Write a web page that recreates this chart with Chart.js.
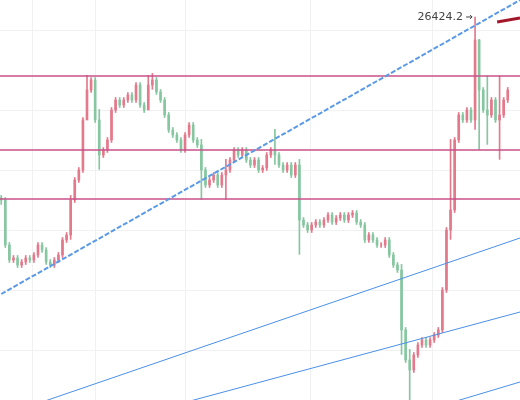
<!DOCTYPE html>
<html>
<head>
<meta charset="utf-8">
<script src="https://cdn.jsdelivr.net/npm/chart.js@4/dist/chart.umd.min.js"></script>
<style>
  html, body { margin: 0; padding: 0; background: #fff; }
  #wrap { width: 520px; height: 400px; }
</style>
</head>
<body>
<div id="wrap"><canvas id="myChart"></canvas></div>
<script>
// closing prices, one per candle
var closes = [24594,24144,23994,24014,23944,23974,24014,23994,24044,24144,24094,23974,23944,23994,24044,24194,24244,24594,24794,24894,
  25394,25694,25794,25394,25044,25094,25194,25494,25594,25544,25594,25644,25594,25744,25544,25494,25744,25794,25674,25594,
  25444,25294,25244,25194,25094,25244,25344,25194,25144,24894,24744,24794,24844,24744,24844,24894,24994,25094,25044,25094,
  24994,24944,24994,24894,24914,25044,25094,25044,24944,24894,24944,24844,24944,24394,24344,24294,24344,24374,24344,24394,
  24444,24374,24414,24444,24394,24444,24464,24374,24344,24194,24244,24194,24144,24144,24194,24044,23944,23894,23294,22994,
  22894,23044,23144,23194,23144,23194,23244,23294,23694,24294,24494,25194,25444,25394,25494,25394,26194,25694,25494,25444,
  25594,25394,25444,25594,25694];
var firstOpen = 24614;
// candles with a long wick: index -> [low, high]
var longWicks = {0:[24550,24640], 17:[24200,24640], 21:[25600,25840], 24:[24900,25500], 36:[25600,25840], 37:[25700,25860], 49:[24600,25200],
  55:[24600,25000], 67:[24950,25300], 73:[24050,25000], 98:[23050,23950], 100:[22580,23100], 110:[24200,25200], 116:[25300,26424.2],
  117:[25100,26200], 119:[25150,25834], 122:[25000,25834]};
var levels = [25834, 25094, 24604];
var trendDashed = [{x:0,y:23654},{x:127,y:26594}];
var trend1 = [{x:0,y:22434},{x:127,y:24214}];
var trend2 = [{x:0,y:22074},{x:127,y:23474}];
var trend3 = [{x:100,y:22444},{x:127,y:22774}];
var redMark = [{x:121.4,y:26374},{x:127,y:26414}];
var peakLabel = '26424.2';

var bodies = [], wicks = [], colors = [];
for (var i = 0; i < closes.length; i++) {
    var o = i == 0 ? firstOpen : closes[i-1];
    var c = closes[i];
    var hi = Math.max(o, c), lo = Math.min(o, c);
    var w = longWicks[i] || [lo - 25, hi + 25];
    bodies.push({x: i, y: [o, c]});
    wicks.push({x: i, y: w});
    colors.push(c >= o ? '#e4798c' : '#86c6a0');
}

var lineDs = function(data, color, width, dash) {
    return {type: 'line', data: data, borderColor: color, borderWidth: width, borderDash: dash || [],
        pointRadius: 0, fill: false, order: 0};
};

var datasets = [
    {type: 'bar', data: wicks, backgroundColor: colors, barThickness: 1, grouped: false, order: 2},
    {type: 'bar', data: bodies, backgroundColor: colors, barThickness: 2, grouped: false, order: 1},
    lineDs(trendDashed, '#5a9ae6', 2, [5, 2]),
    lineDs(trend1, '#4a90e8', 1),
    lineDs(trend2, '#4a90e8', 1),
    lineDs(trend3, '#4a90e8', 1),
    lineDs(redMark, '#a3172a', 3)
];
levels.forEach(function(l) {
    datasets.push(lineDs([{x:-1,y:l},{x:130,y:l}], '#c9508a', 1.5));
});

// faint background grid, drawn by hand since the axes are hidden
var gridPlugin = {
    id: 'grid',
    beforeDatasetsDraw: function(chart) {
        var ctx = chart.ctx, a = chart.chartArea;
        ctx.save();
        ctx.strokeStyle = '#f1f1f1';
        ctx.lineWidth = 1;
        [7.5, 23, 45, 75.5, 105.5].forEach(function(v) {
            var x = Math.round(chart.scales.x.getPixelForValue(v)) + 0.5;
            ctx.beginPath(); ctx.moveTo(x, a.top); ctx.lineTo(x, a.bottom); ctx.stroke();
        });
        [26294, 25494, 24894, 24294, 23694, 23094].forEach(function(v) {
            var y = Math.round(chart.scales.y.getPixelForValue(v)) + 0.5;
            ctx.beginPath(); ctx.moveTo(a.left, y); ctx.lineTo(a.right, y); ctx.stroke();
        });
        ctx.restore();
    }
};

var peakPlugin = {
    id: 'peak',
    afterDatasetsDraw: function(chart) {
        var ctx = chart.ctx;
        var x = chart.scales.x.getPixelForValue(116);
        var y = chart.scales.y.getPixelForValue(26424.2);
        ctx.save();
        ctx.font = '11px "DejaVu Sans", sans-serif';
        ctx.fillStyle = '#444';
        ctx.textAlign = 'right';
        ctx.textBaseline = 'middle';
        ctx.fillText(peakLabel, x - 12, y);
        ctx.strokeStyle = '#444';
        ctx.beginPath();
        ctx.moveTo(x - 9, y); ctx.lineTo(x - 3, y);
        ctx.moveTo(x - 5, y - 2); ctx.lineTo(x - 3, y); ctx.lineTo(x - 5, y + 2);
        ctx.stroke();
        ctx.restore();
    }
};

new Chart(document.getElementById('myChart'), {
    data: {datasets: datasets},
    plugins: [gridPlugin, peakPlugin],
    options: {
        responsive: true,
        maintainAspectRatio: false,
        animation: false,
        layout: {padding: 0},
        plugins: {legend: {display: false}, tooltip: {enabled: false}},
        scales: {
            x: {type: 'linear', min: -0.3, max: 127, display: false, offset: false},
            y: {min: 22594, max: 26594, display: false}
        }
    }
});
</script>
</body>
</html>
